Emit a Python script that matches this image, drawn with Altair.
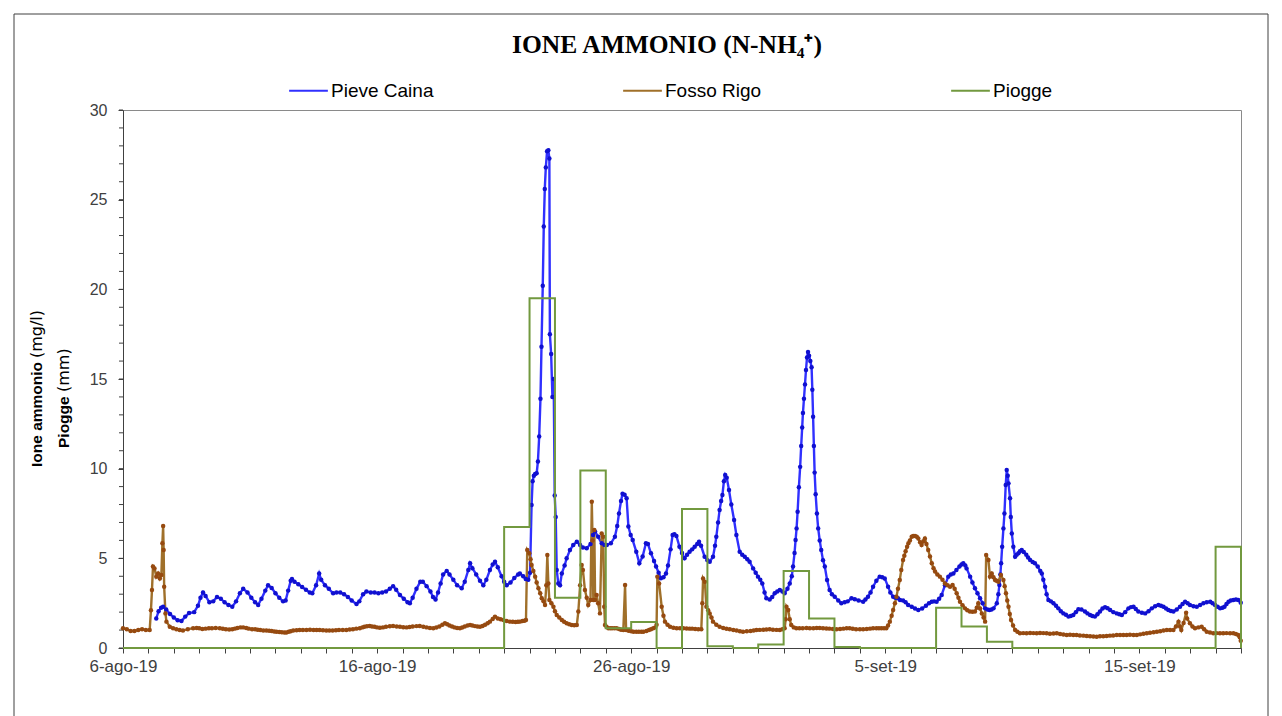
import altair as alt
import pandas as pd

START = pd.Timestamp("2019-08-06")

series_names = ["Pieve Caina", "Fosso Rigo", "Piogge"]
line_colors = ["#3030ff", "#a0702a", "#72993f"]
marker_colors = ["#1010d0", "#964a10"]

# (days since 6-ago-19 00:00, mg/l)
pieve_caina = [
    (1.31, 1.65), (1.40, 2.05), (1.50, 2.25), (1.58, 2.3), (1.70, 2.15), (1.85, 1.9), (2.00, 1.7),
    (2.15, 1.55), (2.30, 1.5), (2.45, 1.75), (2.60, 1.95), (2.80, 2.0), (2.95, 2.35), (3.05, 2.8),
    (3.15, 3.1), (3.25, 2.9), (3.40, 2.55), (3.55, 2.6), (3.70, 2.85), (3.85, 2.75), (4.00, 2.55),
    (4.15, 2.4), (4.30, 2.3), (4.45, 2.6), (4.60, 3.05), (4.73, 3.3), (4.90, 3.1), (5.05, 2.8),
    (5.20, 2.55), (5.32, 2.4), (5.45, 2.75), (5.60, 3.2), (5.71, 3.5), (5.85, 3.35), (6.00, 3.05),
    (6.15, 2.8), (6.30, 2.6), (6.40, 2.65), (6.50, 3.2), (6.60, 3.75), (6.65, 3.85), (6.75, 3.7),
    (6.90, 3.55), (7.05, 3.4), (7.20, 3.25), (7.35, 3.1), (7.45, 3.05), (7.60, 3.5), (7.72, 4.15),
    (7.80, 3.8), (7.95, 3.5), (8.10, 3.3), (8.27, 3.05), (8.40, 3.1), (8.55, 3.1), (8.70, 3.0),
    (8.85, 2.85), (9.00, 2.65), (9.19, 2.45), (9.30, 2.6), (9.45, 3.0), (9.58, 3.15), (9.75, 3.1),
    (9.90, 3.1), (10.05, 3.05), (10.20, 3.1), (10.35, 3.15), (10.50, 3.3), (10.63, 3.45),
    (10.75, 3.25), (10.90, 2.95), (11.05, 2.75), (11.20, 2.55), (11.29, 2.5), (11.40, 2.8),
    (11.55, 3.3), (11.70, 3.7), (11.80, 3.7), (11.95, 3.45), (12.10, 3.15), (12.20, 2.85),
    (12.30, 2.7), (12.40, 3.1), (12.50, 3.6), (12.60, 4.1), (12.74, 4.3), (12.85, 4.1),
    (13.00, 3.8), (13.15, 3.5), (13.33, 3.33), (13.45, 3.7), (13.59, 4.35), (13.66, 4.72),
    (13.75, 4.45), (13.90, 4.1), (14.05, 3.75), (14.18, 3.5), (14.30, 3.8), (14.44, 4.35),
    (14.55, 4.65), (14.64, 4.81), (14.75, 4.5), (14.90, 4.0), (15.00, 3.7), (15.10, 3.5),
    (15.25, 3.65), (15.40, 3.9), (15.55, 4.1), (15.62, 4.16), (15.75, 4.0), (15.85, 3.85),
    (15.95, 3.8), (16.02, 4.2), (16.08, 7.97), (16.12, 9.3), (16.17, 9.6), (16.22, 9.7),
    (16.28, 9.74), (16.33, 10.4), (16.38, 11.8), (16.43, 13.9), (16.47, 16.8), (16.52, 20.2),
    (16.56, 23.5), (16.60, 25.6), (16.64, 26.8), (16.69, 27.7), (16.74, 27.75), (16.78, 27.3),
    (16.80, 17.5), (16.85, 16.4), (16.90, 14.0), (16.95, 15.0), (16.99, 8.5), (17.03, 7.3),
    (17.07, 4.35), (17.13, 3.6), (17.20, 3.5), (17.27, 4.16), (17.38, 4.6), (17.46, 5.0),
    (17.59, 5.46), (17.72, 5.74), (17.86, 5.93), (17.99, 5.74), (18.10, 5.6), (18.25, 5.56),
    (18.40, 5.8), (18.50, 6.3), (18.58, 6.49), (18.70, 6.2), (18.84, 5.84), (18.95, 5.75),
    (19.04, 5.74), (19.20, 5.84), (19.36, 6.2), (19.45, 6.8), (19.52, 7.5), (19.60, 8.2),
    (19.66, 8.6), (19.74, 8.55), (19.82, 8.35), (19.89, 6.77), (19.98, 6.3), (20.06, 6.02),
    (20.20, 5.37), (20.32, 4.72), (20.45, 5.1), (20.58, 5.84), (20.66, 5.8), (20.78, 5.28),
    (20.90, 4.85), (20.98, 4.54), (21.08, 4.2), (21.17, 3.89), (21.27, 3.95), (21.37, 4.16),
    (21.45, 4.6), (21.55, 5.5), (21.63, 6.3), (21.70, 6.35), (21.78, 6.25), (21.90, 5.65),
    (22.00, 5.3), (22.10, 5.0), (22.20, 5.2), (22.30, 5.37), (22.40, 5.5), (22.50, 5.65),
    (22.60, 5.8), (22.67, 5.93), (22.75, 5.7), (22.89, 5.09), (23.00, 4.9), (23.09, 4.81),
    (23.22, 5.09), (23.30, 5.7), (23.35, 6.2), (23.42, 7.0), (23.48, 7.7), (23.54, 8.2),
    (23.59, 8.53), (23.65, 9.3), (23.70, 9.65), (23.76, 9.5), (23.85, 8.81), (23.94, 8.0),
    (24.05, 7.14), (24.14, 6.3), (24.27, 5.37), (24.37, 5.2), (24.47, 5.09), (24.57, 4.95),
    (24.66, 4.81), (24.80, 4.44), (24.90, 4.2), (24.99, 3.98), (25.08, 3.8), (25.16, 3.6),
    (25.25, 3.1), (25.32, 2.77), (25.45, 2.7), (25.55, 2.85), (25.65, 3.05), (25.75, 3.15),
    (25.85, 3.23), (25.95, 3.15), (26.04, 3.05), (26.15, 3.3), (26.24, 3.6), (26.32, 4.0),
    (26.37, 4.54), (26.43, 5.3), (26.47, 6.02), (26.51, 6.67), (26.55, 7.6), (26.60, 8.96),
    (26.65, 10.1), (26.69, 11.26), (26.73, 12.3), (26.76, 13.1), (26.80, 13.9), (26.84, 14.7),
    (26.88, 15.5), (26.92, 16.2), (26.96, 16.5), (27.00, 16.3), (27.05, 16.0), (27.10, 15.65),
    (27.13, 14.4), (27.16, 12.9), (27.19, 11.26), (27.22, 9.78), (27.26, 8.57), (27.31, 7.5),
    (27.36, 6.67), (27.42, 6.0), (27.48, 5.46), (27.55, 4.9), (27.62, 4.54), (27.71, 3.79),
    (27.81, 3.23), (27.90, 3.0), (28.01, 2.86), (28.15, 2.65), (28.27, 2.49), (28.40, 2.55),
    (28.52, 2.6), (28.67, 2.77), (28.80, 2.72), (28.95, 2.65), (29.13, 2.58), (29.22, 2.7),
    (29.32, 2.86), (29.42, 3.1), (29.52, 3.42), (29.65, 3.75), (29.78, 3.98), (29.88, 3.95),
    (29.98, 3.88), (30.11, 3.42), (30.20, 3.1), (30.31, 2.86), (30.40, 2.8), (30.50, 2.77),
    (30.58, 2.68), (30.70, 2.65), (30.80, 2.55), (30.90, 2.4), (31.04, 2.3), (31.17, 2.2),
    (31.30, 2.12), (31.45, 2.2), (31.60, 2.35), (31.72, 2.5), (31.83, 2.58), (31.92, 2.6),
    (32.02, 2.58), (32.12, 2.75), (32.22, 2.96), (32.35, 3.5), (32.48, 3.98), (32.58, 4.1),
    (32.68, 4.16), (32.80, 4.35), (32.92, 4.54), (33.00, 4.65), (33.07, 4.72), (33.15, 4.6),
    (33.20, 4.44), (33.34, 3.98), (33.43, 3.65), (33.53, 3.33), (33.63, 3.05), (33.73, 2.77),
    (33.83, 2.5), (33.93, 2.21), (34.02, 2.15), (34.10, 2.12), (34.18, 2.15), (34.26, 2.21),
    (34.39, 2.49), (34.45, 3.0), (34.49, 3.51), (34.53, 4.1), (34.56, 4.72), (34.60, 5.65),
    (34.65, 6.67), (34.69, 7.5), (34.74, 9.09), (34.78, 9.93), (34.82, 9.6), (34.85, 9.18),
    (34.91, 8.35), (34.94, 7.3), (34.98, 6.39), (35.04, 5.65), (35.11, 5.09), (35.17, 5.2),
    (35.24, 5.28), (35.30, 5.4), (35.37, 5.46), (35.45, 5.35), (35.55, 5.2), (35.62, 5.05),
    (35.70, 4.91), (35.80, 4.8), (35.89, 4.72), (36.00, 4.54), (36.10, 4.3), (36.16, 4.16),
    (36.22, 3.8), (36.29, 3.42), (36.35, 3.0), (36.42, 2.68), (36.52, 2.6), (36.62, 2.49),
    (36.72, 2.35), (36.81, 2.21), (36.91, 2.05), (37.01, 1.93), (37.11, 1.85), (37.21, 1.75),
    (37.30, 1.78), (37.40, 1.84), (37.50, 2.0), (37.60, 2.16), (37.72, 2.15), (37.86, 2.03),
    (37.96, 1.93), (38.06, 1.84), (38.15, 1.78), (38.25, 1.75), (38.35, 1.88), (38.45, 2.03),
    (38.55, 2.2), (38.65, 2.27), (38.75, 2.22), (38.85, 2.12), (38.98, 2.0), (39.11, 1.93),
    (39.21, 1.88), (39.31, 1.84), (39.44, 2.0), (39.57, 2.21), (39.67, 2.28), (39.77, 2.3),
    (39.86, 2.18), (39.96, 2.03), (40.10, 1.97), (40.23, 1.93), (40.36, 2.05), (40.49, 2.21),
    (40.62, 2.33), (40.75, 2.4), (40.85, 2.36), (40.95, 2.3), (41.05, 2.2), (41.14, 2.12),
    (41.24, 2.06), (41.34, 2.03), (41.47, 2.15), (41.60, 2.3), (41.70, 2.45), (41.80, 2.58),
    (41.90, 2.5), (41.99, 2.4), (42.13, 2.33), (42.26, 2.3), (42.39, 2.4), (42.52, 2.49),
    (42.65, 2.55), (42.79, 2.58), (42.88, 2.5), (42.98, 2.4), (43.08, 2.3), (43.18, 2.21),
    (43.27, 2.25), (43.35, 2.3), (43.43, 2.45), (43.51, 2.58), (43.60, 2.65), (43.70, 2.68),
    (43.80, 2.7), (43.89, 2.68), (43.99, 2.53),
]

fosso_rigo = [
    (0.00, 1.1), (0.15, 1.05), (0.30, 0.95), (0.45, 0.95), (0.60, 1.0), (0.75, 1.05), (0.90, 1.0),
    (1.05, 1.0), (1.10, 2.1), (1.14, 3.23), (1.18, 4.54), (1.24, 4.44), (1.31, 3.98), (1.38, 4.16),
    (1.45, 3.88), (1.51, 4.07), (1.55, 5.84), (1.58, 6.8), (1.60, 5.46), (1.62, 3.42), (1.67, 1.93),
    (1.71, 1.47), (1.84, 1.19), (1.97, 1.1), (2.10, 1.04), (2.23, 1.0), (2.36, 0.97), (2.55, 1.05),
    (2.76, 1.1), (2.90, 1.12), (3.00, 1.1), (3.12, 1.06), (3.25, 1.08), (3.38, 1.1), (3.50, 1.1),
    (3.65, 1.12), (3.81, 1.1), (3.93, 1.07), (4.05, 1.05), (4.18, 1.03), (4.30, 1.04), (4.40, 1.08),
    (4.50, 1.12), (4.62, 1.15), (4.73, 1.15), (4.85, 1.12), (4.95, 1.08), (5.08, 1.05),
    (5.20, 1.04), (5.30, 1.02), (5.40, 1.0), (5.52, 0.98), (5.64, 0.97), (5.75, 0.96),
    (5.85, 0.95), (5.95, 0.92), (6.04, 0.91), (6.15, 0.89), (6.25, 0.88), (6.35, 0.86),
    (6.43, 0.86), (6.52, 0.9), (6.60, 0.93), (6.70, 0.97), (6.83, 0.99), (6.95, 1.0),
    (7.08, 1.0), (7.22, 1.0), (7.36, 1.02), (7.50, 1.0), (7.62, 1.0), (7.74, 1.0), (7.87, 0.99),
    (8.00, 0.98), (8.12, 0.97), (8.25, 0.97), (8.38, 0.99), (8.50, 1.0), (8.65, 1.0),
    (8.79, 1.0), (8.92, 1.03), (9.05, 1.05), (9.18, 1.08), (9.32, 1.1), (9.42, 1.15),
    (9.50, 1.18), (9.60, 1.21), (9.71, 1.23), (9.80, 1.2), (9.90, 1.18), (10.00, 1.15),
    (10.11, 1.13), (10.23, 1.15), (10.35, 1.18), (10.50, 1.21), (10.63, 1.23), (10.77, 1.2),
    (10.90, 1.18), (11.03, 1.16), (11.16, 1.15), (11.28, 1.17), (11.40, 1.2), (11.55, 1.22),
    (11.68, 1.23), (11.82, 1.19), (11.95, 1.15), (12.08, 1.12), (12.21, 1.1), (12.33, 1.14),
    (12.45, 1.2), (12.57, 1.3), (12.67, 1.38), (12.76, 1.32), (12.85, 1.25), (12.95, 1.2),
    (13.05, 1.15), (13.15, 1.12), (13.26, 1.1), (13.35, 1.14), (13.45, 1.2), (13.56, 1.25),
    (13.66, 1.28), (13.75, 1.25), (13.85, 1.22), (13.95, 1.2), (14.05, 1.19), (14.15, 1.23),
    (14.25, 1.3), (14.35, 1.38), (14.44, 1.47), (14.55, 1.62), (14.64, 1.75), (14.75, 1.65),
    (14.86, 1.6), (14.97, 1.56), (15.10, 1.5), (15.23, 1.47), (15.34, 1.46), (15.45, 1.45),
    (15.54, 1.46), (15.62, 1.47), (15.72, 1.5), (15.80, 1.52), (15.86, 1.56), (15.91, 5.46),
    (15.99, 5.28), (16.04, 4.95), (16.08, 4.63), (16.15, 4.3), (16.22, 3.98), (16.28, 3.65),
    (16.35, 3.33), (16.42, 3.05), (16.48, 2.77), (16.55, 2.6), (16.61, 2.4), (16.66, 3.5),
    (16.70, 5.19), (16.74, 3.6), (16.78, 2.68), (16.86, 2.5), (16.94, 2.3), (17.00, 2.05),
    (17.07, 1.84), (17.17, 1.7), (17.27, 1.56), (17.36, 1.46), (17.46, 1.38), (17.56, 1.32),
    (17.66, 1.28), (17.76, 1.27), (17.86, 1.28), (17.92, 2.03), (17.99, 3.5), (18.05, 4.63),
    (18.10, 4.35), (18.18, 3.23), (18.25, 2.8), (18.31, 2.4), (18.40, 2.68), (18.45, 8.16),
    (18.48, 6.0), (18.51, 2.68), (18.55, 6.58), (18.58, 2.68), (18.64, 2.96), (18.70, 2.49),
    (18.77, 1.93), (18.84, 6.39), (18.90, 6.2), (18.94, 2.3), (18.97, 1.28), (19.03, 1.18),
    (19.10, 1.1), (19.18, 1.1), (19.25, 1.1), (19.34, 1.1), (19.43, 1.1), (19.52, 1.06),
    (19.60, 1.02), (19.69, 1.0), (19.76, 3.51), (19.80, 1.0), (19.90, 0.96), (20.00, 0.93),
    (20.09, 0.91), (20.20, 0.91), (20.30, 0.91), (20.40, 0.9), (20.48, 0.91), (20.60, 0.95),
    (20.70, 1.0), (20.78, 1.05), (20.87, 1.1), (20.95, 1.15), (21.00, 1.3), (21.03, 3.98),
    (21.10, 3.6), (21.20, 2.3), (21.27, 1.8), (21.33, 1.47), (21.43, 1.3), (21.53, 1.19),
    (21.66, 1.13), (21.79, 1.1), (21.92, 1.1), (22.05, 1.1), (22.18, 1.09), (22.30, 1.08),
    (22.40, 1.08), (22.52, 1.06), (22.64, 1.05), (22.76, 1.04), (22.80, 2.5), (22.83, 3.88),
    (22.90, 3.7), (22.96, 2.3), (23.03, 2.1), (23.09, 1.93), (23.16, 1.7), (23.22, 1.47),
    (23.35, 1.3), (23.48, 1.19), (23.62, 1.12), (23.75, 1.07), (23.88, 1.04), (24.02, 1.0),
    (24.15, 0.97), (24.28, 0.93), (24.40, 0.91), (24.55, 0.93), (24.70, 0.95), (24.82, 0.98),
    (24.93, 1.0), (25.06, 1.01), (25.20, 1.02), (25.32, 1.03), (25.45, 1.04), (25.58, 1.02),
    (25.72, 1.01), (25.85, 1.0), (25.95, 1.05), (26.04, 1.1), (26.08, 1.6), (26.11, 2.3),
    (26.18, 2.12), (26.24, 1.6), (26.30, 1.28), (26.40, 1.15), (26.50, 1.1), (26.62, 1.1),
    (26.75, 1.1), (26.90, 1.12), (27.03, 1.1), (27.17, 1.1), (27.30, 1.12), (27.42, 1.12),
    (27.55, 1.1), (27.68, 1.09), (27.80, 1.08), (27.94, 1.06), (28.08, 1.04), (28.22, 1.06),
    (28.35, 1.08), (28.48, 1.1), (28.60, 1.1), (28.72, 1.07), (28.85, 1.05), (29.00, 1.04),
    (29.13, 1.04), (29.27, 1.06), (29.40, 1.08), (29.52, 1.1), (29.65, 1.1), (29.75, 1.1),
    (29.85, 1.1), (29.95, 1.1), (30.04, 1.1), (30.11, 1.25), (30.18, 1.47), (30.25, 1.8),
    (30.31, 2.12), (30.38, 2.5), (30.44, 2.86), (30.50, 3.3), (30.57, 3.79), (30.63, 4.35),
    (30.70, 4.91), (30.75, 5.15), (30.80, 5.4), (30.86, 5.65), (30.91, 5.84), (30.97, 6.0),
    (31.04, 6.2), (31.10, 6.25), (31.17, 6.25), (31.24, 6.2), (31.30, 6.1), (31.37, 5.9),
    (31.43, 5.74), (31.50, 5.95), (31.56, 6.1), (31.62, 5.8), (31.69, 5.46), (31.76, 5.1),
    (31.83, 4.72), (31.90, 4.45), (31.96, 4.26), (32.05, 4.1), (32.15, 3.98), (32.25, 3.8),
    (32.35, 3.6), (32.45, 3.5), (32.55, 3.42), (32.65, 3.51), (32.73, 3.3), (32.81, 3.05),
    (32.88, 2.8), (32.94, 2.58), (33.04, 2.38), (33.14, 2.21), (33.23, 2.1), (33.33, 2.03),
    (33.43, 2.02), (33.53, 2.03), (33.60, 2.25), (33.66, 2.49), (33.73, 2.2), (33.80, 1.93),
    (33.87, 1.7), (33.93, 1.47), (33.97, 5.19), (34.06, 4.91), (34.12, 3.98), (34.19, 4.16),
    (34.26, 3.95), (34.32, 3.79), (34.38, 3.75), (34.45, 3.7), (34.55, 4.07), (34.65, 3.79),
    (34.70, 3.45), (34.75, 3.05), (34.80, 2.65), (34.85, 2.3), (34.90, 1.9), (34.95, 1.56),
    (35.03, 1.25), (35.11, 1.0), (35.20, 0.9), (35.30, 0.82), (35.43, 0.83), (35.56, 0.82),
    (35.70, 0.84), (35.83, 0.83), (35.96, 0.82), (36.09, 0.84), (36.22, 0.83), (36.35, 0.82),
    (36.48, 0.8), (36.62, 0.81), (36.75, 0.82), (36.88, 0.78), (37.01, 0.75), (37.14, 0.72),
    (37.27, 0.74), (37.40, 0.73), (37.53, 0.72), (37.66, 0.7), (37.80, 0.69), (37.93, 0.67),
    (38.06, 0.66), (38.19, 0.64), (38.32, 0.63), (38.45, 0.65), (38.58, 0.66), (38.71, 0.67),
    (38.84, 0.69), (38.97, 0.7), (39.11, 0.72), (39.24, 0.73), (39.37, 0.72), (39.50, 0.72),
    (39.63, 0.74), (39.77, 0.73), (39.90, 0.72), (40.03, 0.76), (40.16, 0.8), (40.29, 0.82),
    (40.42, 0.85), (40.56, 0.88), (40.69, 0.91), (40.82, 0.94), (40.95, 0.97), (41.08, 1.0),
    (41.21, 1.0), (41.34, 1.0), (41.44, 1.2), (41.54, 1.47), (41.60, 1.2), (41.65, 1.0),
    (41.74, 1.4), (41.84, 1.97), (41.88, 1.65), (41.99, 1.38), (42.09, 1.2), (42.19, 1.1),
    (42.32, 1.15), (42.45, 1.19), (42.55, 1.05), (42.65, 0.91), (42.78, 0.86), (42.91, 0.82),
    (43.04, 0.83), (43.17, 0.82), (43.30, 0.82), (43.43, 0.83), (43.57, 0.82), (43.70, 0.82),
    (43.80, 0.78), (43.89, 0.72), (43.95, 0.6), (43.99, 0.41),
]

# daily rainfall (mm), one value per day from 6-ago-19 to 19-set-19
piogge_mm = [
    0, 0, 0, 0, 0, 0, 0, 0, 0, 0,            # 6-15 ago
    0, 0, 0, 0, 0, 6.75, 19.5, 2.8, 9.9, 1.1,  # 16-25 ago
    1.45, 0, 7.75, 0.1, 0, 0.2, 4.3, 1.65, 0.05, 0,  # 26 ago - 4 set
    0, 0, 2.25, 1.2, 0.35, 0, 0, 0, 0, 0,     # 5-14 set
    0, 0, 0, 5.65, 0,                          # 15-19 set
]

month_names = ["gen", "feb", "mar", "apr", "mag", "giu", "lug", "ago", "set", "ott", "nov", "dic"]
y_major_ticks = [0, 5, 10, 15, 20, 25, 30]
y_minor_ticks = list(range(0, 31))


def to_frame(pairs, name):
    return pd.DataFrame({
        "t": [START + pd.Timedelta(minutes=round(d * 1440)) for d, _ in pairs],
        "v": [v for _, v in pairs],
        "serie": name,
    })


conc = pd.concat([to_frame(pieve_caina, "Pieve Caina"), to_frame(fosso_rigo, "Fosso Rigo")],
                 ignore_index=True)
rain = pd.DataFrame({
    "t": [START + pd.Timedelta(days=i) for i in range(len(piogge_mm))],
    "v": piogge_mm,
    "serie": "Piogge",
})
minor = pd.DataFrame({"v": y_minor_ticks})

day_values = [alt.DateTime(year=d.year, month=d.month, date=d.day)
              for d in pd.date_range("2019-08-06", "2019-09-19", freq="D")]

label_expr = (
    "(round((datum.value - datetime(2019, 7, 6)) / 86400000) % 10 == 0) ? "
    "(date(datum.value) + '-' + " + str(month_names).replace('"', "'") +
    "[month(datum.value)] + '-19') : ''"
)

x_enc = alt.X(
    "t:T",
    scale=alt.Scale(domain=[alt.DateTime(year=2019, month=8, date=6),
                            alt.DateTime(year=2019, month=9, date=19)], nice=False),
    axis=alt.Axis(values=day_values, labelExpr=label_expr, title=None, grid=False,
                  tickSize=5, labelFlush=False, labelOverlap=False, labelPadding=5,
                  labelFontSize=17, labelColor="#404040", domainColor="#404040",
                  tickColor="#404040"),
)
y_axis = alt.Axis(values=y_major_ticks, title=None, grid=False, tickSize=5, labelPadding=11,
                  labelFontSize=16, labelColor="#404040", domainColor="#404040",
                  tickColor="#404040")
y_enc = alt.Y("v:Q", scale=alt.Scale(domain=[0, 30], nice=False), axis=y_axis)

color_enc = alt.Color(
    "serie:N",
    scale=alt.Scale(domain=series_names, range=line_colors),
    legend=alt.Legend(title=None, orient="none", legendX=165, legendY=-40,
                      direction="horizontal", columns=3, columnPadding=185,
                      symbolType="stroke", symbolSize=1500, symbolStrokeWidth=2,
                      labelFontSize=19, labelFont="Liberation Sans", labelColor="#000000",
                      labelOffset=2, padding=0),
)

lines = alt.Chart(conc).mark_line(strokeWidth=2.4).encode(
    x=x_enc, y=y_enc, color=color_enc, detail="serie:N"
)

dots_pc = alt.Chart(conc).transform_filter(alt.datum.serie == "Pieve Caina").mark_circle(
    size=20, opacity=1, color=marker_colors[0]).encode(x=x_enc, y=y_enc)
dots_fr = alt.Chart(conc).transform_filter(alt.datum.serie == "Fosso Rigo").mark_circle(
    size=20, opacity=1, color=marker_colors[1]).encode(x=x_enc, y=y_enc)

rain_line = alt.Chart(rain).mark_line(interpolate="step-after", strokeWidth=2).encode(
    x=x_enc, y=y_enc, color=color_enc
)

minor_ticks = alt.Chart(minor).mark_rule(color="#404040").encode(
    y=alt.Y("v:Q", scale=alt.Scale(domain=[0, 30], nice=False), axis=y_axis),
    x=alt.value(-4), x2=alt.value(0),
)

one = pd.DataFrame({"k": [0]})
title_txt = alt.Chart(one).mark_text(
    text="IONE AMMONIO (N-NH₄⁺)", font="Liberation Serif", fontSize=25.5, fontWeight="bold",
    color="#000000", align="center", baseline="middle"
).encode(x=alt.value(544), y=alt.value(-65))

yt1b = alt.Chart(one).mark_text(
    text="Ione ammonio", font="Liberation Sans", fontSize=15.5, fontWeight="bold", angle=270,
    align="left", baseline="middle", color="#000000"
).encode(x=alt.value(-86), y=alt.value(357))
yt1n = alt.Chart(one).mark_text(
    text="(mg/l)", font="DejaVu Sans", fontSize=16, angle=270,
    align="left", baseline="middle", color="#000000"
).encode(x=alt.value(-86), y=alt.value(248))
yt2b = alt.Chart(one).mark_text(
    text="Piogge", font="Liberation Sans", fontSize=15.5, fontWeight="bold", angle=270,
    align="left", baseline="middle", color="#000000"
).encode(x=alt.value(-59.5), y=alt.value(338))
yt2n = alt.Chart(one).mark_text(
    text="(mm)", font="DejaVu Sans", fontSize=16, angle=270,
    align="left", baseline="middle", color="#000000"
).encode(x=alt.value(-59.5), y=alt.value(282))

frame = alt.Chart(one).mark_rect(fill=None, fillOpacity=0, stroke="#404040", strokeWidth=1).encode(
    x=alt.value(-109), x2=alt.value(1145), y=alt.value(-96), y2=alt.value(640)
)

chart = alt.layer(
    frame, minor_ticks, lines, dots_pc, dots_fr, rain_line,
    title_txt, yt1b, yt1n, yt2b, yt2n,
).properties(
    width=1118, height=538,
    padding={"left": 123, "top": 110, "right": 41, "bottom": 68},
    autosize=alt.AutoSizeParams(type="none"),
    background="#ffffff",
).configure_view(
    stroke="#8a8a8a", strokeWidth=1
).configure_axis(
    labelFont="Liberation Sans"
)

chart.save("out.html", embed_options={"renderer": "svg", "actions": False})
